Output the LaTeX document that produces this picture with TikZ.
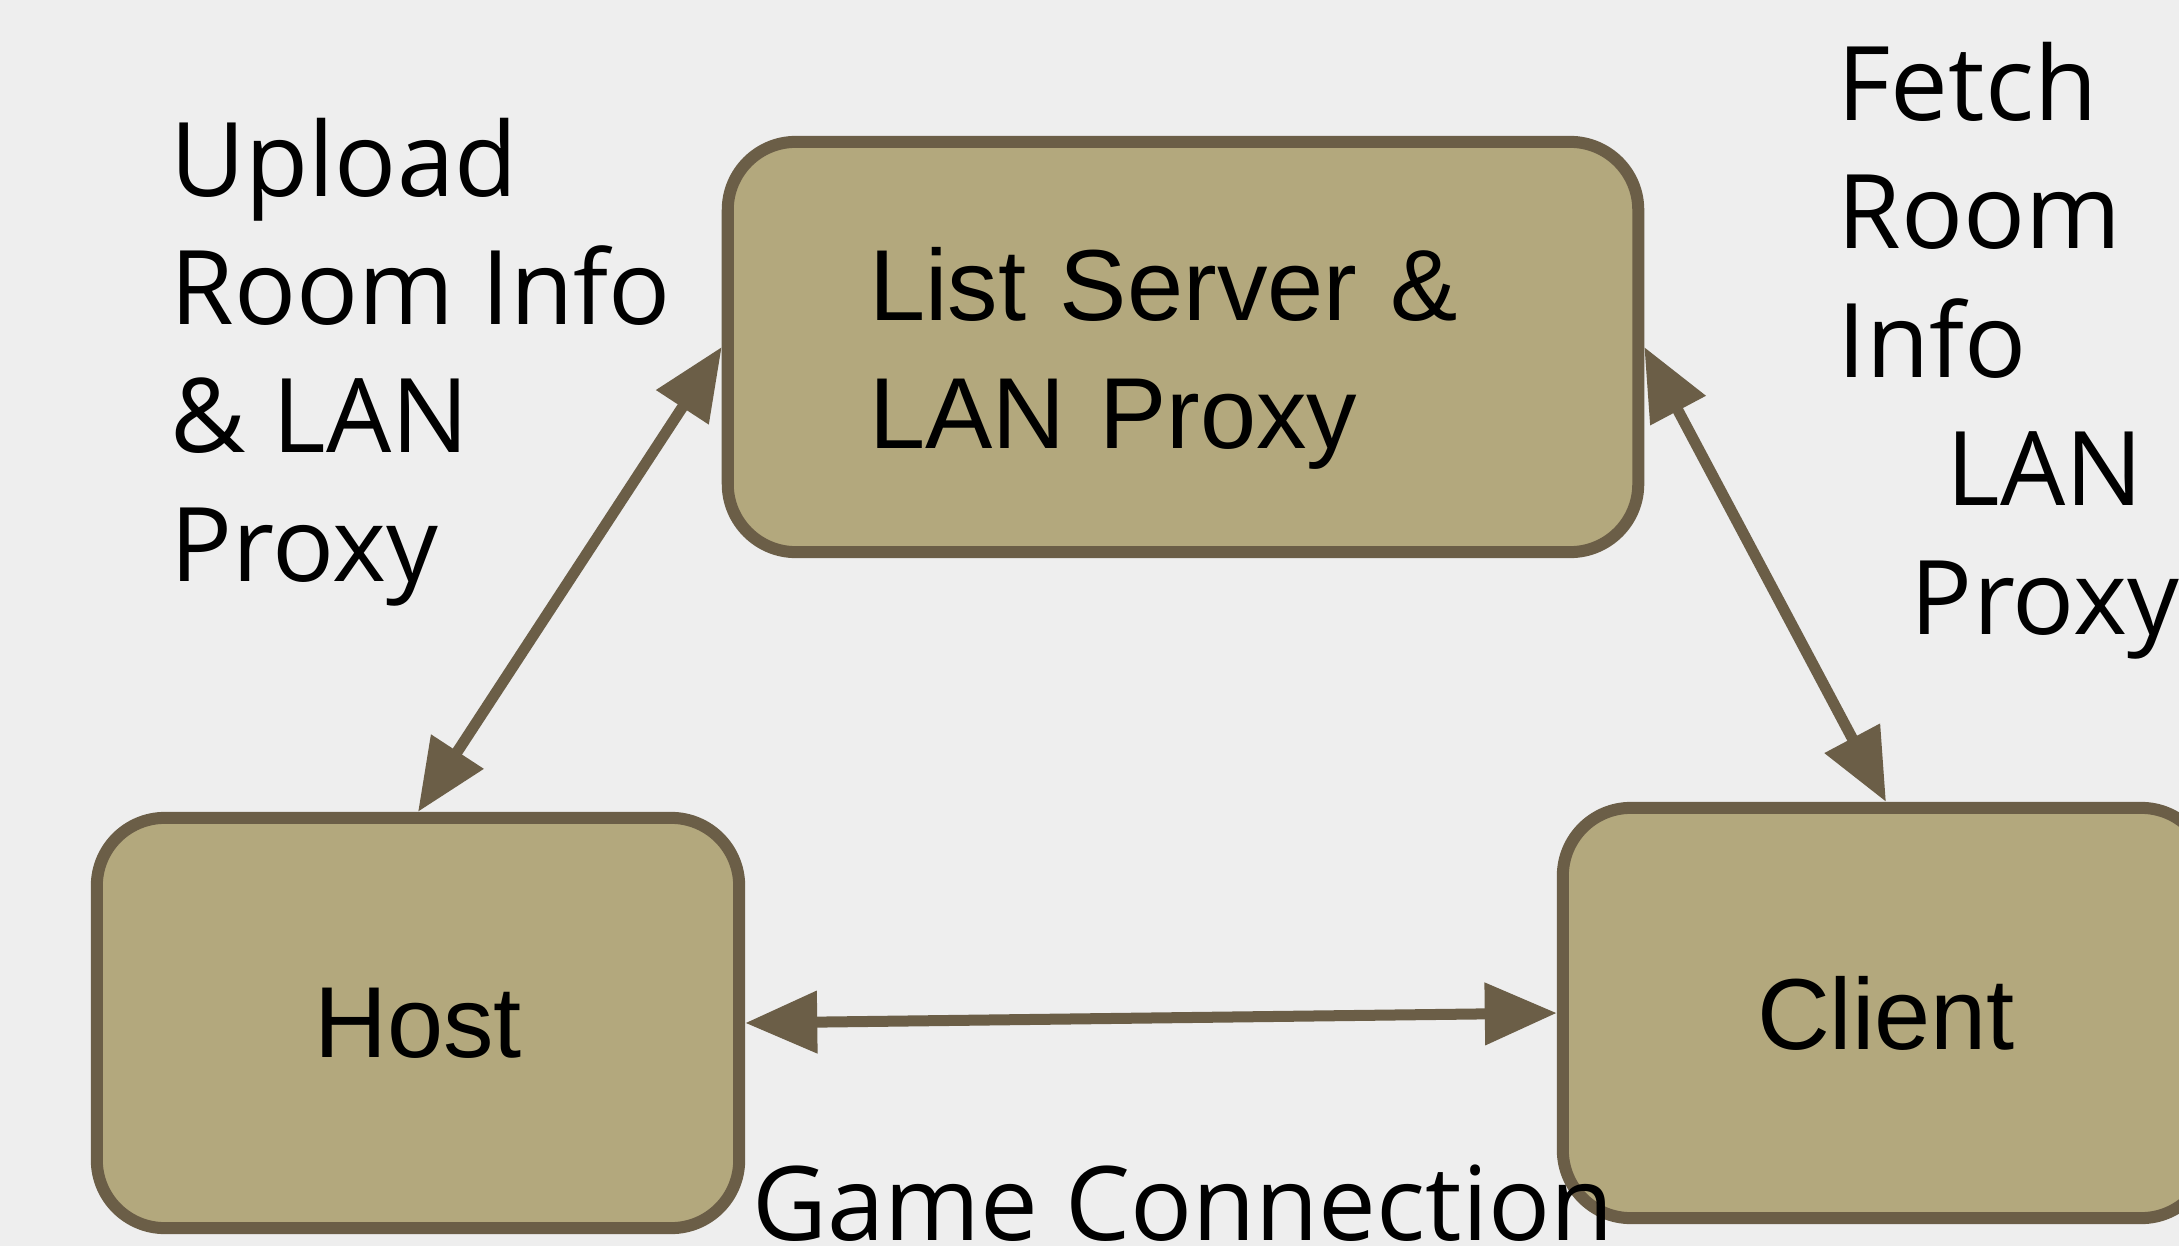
\documentclass[tikz,border=0pt]{standalone}
\usepackage{fontspec}
\setmainfont{Open Sans}
\newfontfamily\boxfont{Liberation Sans}
\usetikzlibrary{arrows.meta}
\definecolor{bgcol}{HTML}{EEEEEE}
\definecolor{edgecol}{HTML}{6B5E47}
\definecolor{boxcol}{HTML}{B3A87D}
\begin{document}
\begin{tikzpicture}[x=0.01cm,y=-0.01cm,
  box/.style={draw=edgecol, fill=boxcol, line width=0.12cm, rounded corners=0.68cm,
    inner sep=0pt, minimum height=4.1cm,
    font=\boxfont\fontsize{28.7}{36.4}\selectfont, align=center},
  conn/.style={draw=edgecol, line width=0.11cm,
    {Triangle[length=0.72cm,width=0.6cm]}-{Triangle[length=0.72cm,width=0.6cm]}},
  lbl/.style={inner sep=0pt, font=\fontsize{29.3}{36.4}\selectfont}]
\fill[bgcol] (0,0) rectangle (2179,1246);
\useasboundingbox (0,0) rectangle (2179,1246);

\node[box, minimum width=9.1cm, inner xsep=1.415cm, text width=6.27cm, align=left]
  (ls) at (1183,347) {\rule{0pt}{0.96cm}List Server \&\\LAN Proxy};
\node[box, minimum width=6.42cm] (host) at (418,1023) {Host};
\node[box, minimum width=6.46cm] (client) at (1886,1013) {Client};

\draw[conn] (host.north) -- (ls.west);
\draw[conn] (ls.east) -- (client.north);
\draw[conn] (host.east) -- (client.west);

\node[lbl, anchor=base west, align=left] (up) at (170,581)
  {Upload\\Room Info\\\& LAN\\Proxy};
\node[lbl, anchor=base west, align=left] (fetch) at (1837,377)
  {Fetch\\Room\\Info};
\node[lbl, anchor=base, align=center] (lanp) at (2045,634)
  {LAN\\Proxy};
\node[lbl, anchor=base] (game) at (1183,1240) {Game Connection};
\end{tikzpicture}
\end{document}
